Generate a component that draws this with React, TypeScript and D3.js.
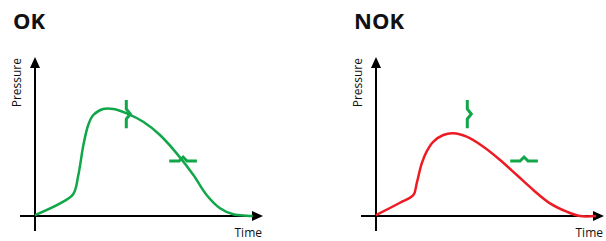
import * as d3 from "d3";

// pressure curves (time 0..100, pressure 0..100)
const okTime = [0, 11.4, 17.4, 19.7, 22, 24.2, 26.5, 31, 35.6, 41.7, 49.2, 56.8, 64.4, 72, 78, 84.1, 90.1, 96.2, 99];
const okPressure = [0.6, 8.2, 14.3, 26.6, 46.1, 59.1, 65.6, 69.5, 69.5, 66.7, 61.2, 52.6, 40.7, 26.6, 13.6, 5, 1.1, 0.2, 0];

const nokTime = [0, 10.9, 17, 18.5, 20.8, 23, 26, 30.6, 35.1, 41.2, 48.8, 56.4, 64, 71.5, 79.1, 86.7, 92.7, 100];
const nokPressure = [0.6, 8.6, 13.6, 21.2, 34.2, 41.8, 48.2, 52.6, 53.7, 51.5, 45, 36.4, 26.6, 16.9, 8.2, 2.8, 0, 0];

// check windows (same in both panels)
const vWindow = { time: 41.5, from: 57, to: 75.3, mid: 66.2 };
const hWindow = { pressure: 35.7, from: 61, to: 73.6, mid: 67.3 };

const GREEN = "#12a64b";
const RED = "#ed1c24";

type PanelProps = {
  title: string;
  ox: number;
  color: string;
  time: number[];
  pressure: number[];
};

function Panel({ title, ox, color, time, pressure }: PanelProps) {
  const oy = 216;
  const x = d3.scaleLinear().domain([0, 100]).range([ox, ox + 220]);
  const y = d3.scaleLinear().domain([0, 100]).range([oy, oy - 154]);

  const pts = time.map((t, i) => [t, pressure[i]] as [number, number]);
  const line = d3
    .line<[number, number]>()
    .x((d) => x(d[0]))
    .y((d) => y(d[1]))
    .curve(d3.curveCatmullRom.alpha(0.5));

  // vertical window with a ">" notch
  const vx = x(vWindow.time);
  const vm = y(vWindow.mid);
  const vPath = `M${vx},${y(vWindow.to)} L${vx},${vm - 5} L${vx + 4},${vm} L${vx},${vm + 5} L${vx},${y(vWindow.from)}`;
  // horizontal window with a "^" notch
  const hy = y(hWindow.pressure);
  const hm = x(hWindow.mid);
  const hPath = `M${x(hWindow.from)},${hy} L${hm - 4},${hy} L${hm},${hy - 4} L${hm + 4},${hy} L${x(hWindow.to)},${hy}`;

  const yTop = 57;
  const xEnd = ox + 228;

  return (
    <g>
      <text x={ox - 22} y={29} fontSize={22} fontWeight="bold" fill="#111" fontFamily="Open Sans">
        {title}
      </text>
      {/* axes */}
      <line x1={ox} y1={231} x2={ox} y2={yTop + 8} stroke="#000" strokeWidth={2} />
      <polygon points={`${ox},${yTop} ${ox - 5},${yTop + 11} ${ox + 5},${yTop + 11}`} fill="#000" />
      <line x1={ox - 15} y1={oy} x2={xEnd - 8} y2={oy} stroke="#000" strokeWidth={2} />
      <polygon points={`${xEnd},${oy} ${xEnd - 11},${oy - 5} ${xEnd - 11},${oy + 5}`} fill="#000" />
      <text
        transform={`translate(${ox - 14},${yTop + 1}) rotate(-90)`}
        textAnchor="end"
        fontSize={12}
        fill="#111"
        fontFamily="Open Sans"
      >
        Pressure
      </text>
      <text x={xEnd - 1} y={237} textAnchor="end" fontSize={12} fill="#111" fontFamily="Open Sans">
        Time
      </text>
      <path d={line(pts) ?? ""} fill="none" stroke={color} strokeWidth={2.5} strokeLinejoin="round" />
      <path d={vPath} fill="none" stroke={GREEN} strokeWidth={3} />
      <path d={hPath} fill="none" stroke={GREEN} strokeWidth={3} />
    </g>
  );
}

export default function App() {
  return (
    <svg width={606} height={241} style={{ position: "absolute", left: 0, top: 0, background: "#fff" }}>
      <Panel title="OK" ox={35} color={GREEN} time={okTime} pressure={okPressure} />
      <Panel title="NOK" ox={376} color={RED} time={nokTime} pressure={nokPressure} />
    </svg>
  );
}
